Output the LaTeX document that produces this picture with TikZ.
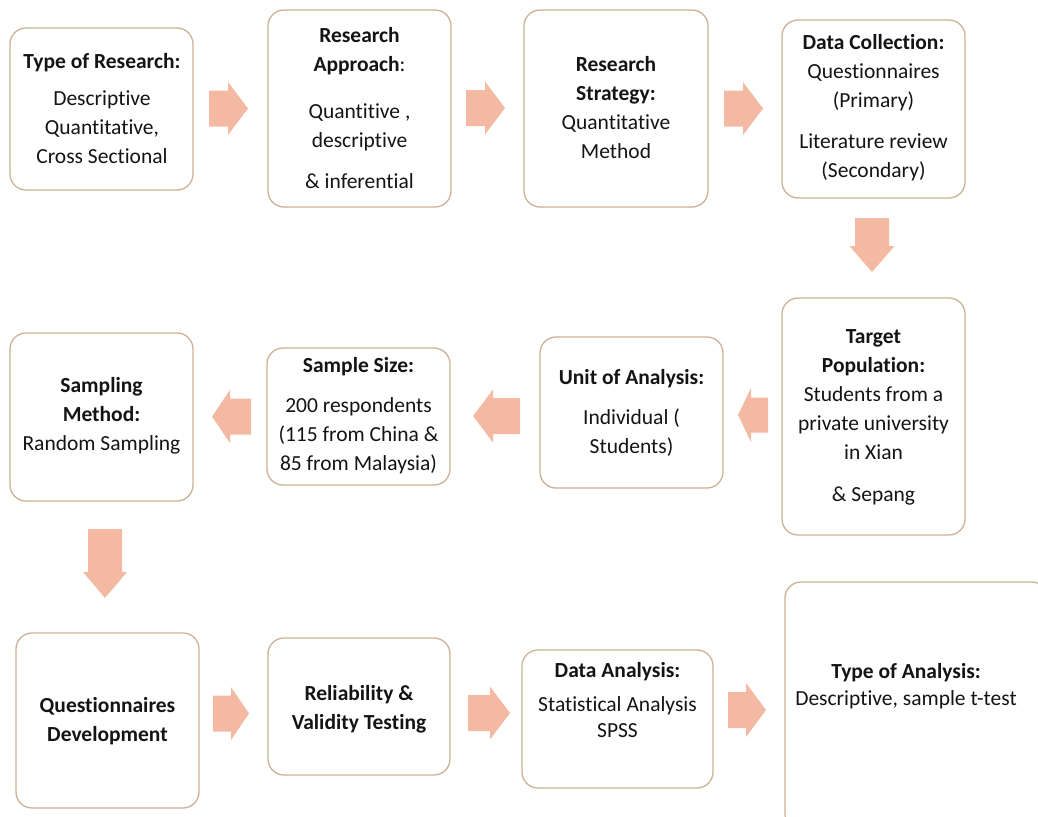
\documentclass[tikz,border=0pt]{standalone}
\usepackage{fontspec}
\setmainfont{Carlito}[Ligatures=NoCommon]
\usetikzlibrary{fit}
\definecolor{boxc}{RGB}{205,178,150}
\definecolor{arrowc}{RGB}{243,185,163}
\newcommand\blockarrow[7]{\begin{scope}[shift={(#1,#2)},rotate=#7]
\fill[arrowc] (0,-#4) -- ({#3-#6},-#4) -- ({#3-#6},-#5) -- (#3,0) -- ({#3-#6},#5) -- ({#3-#6},#4) -- (0,#4) -- cycle;
\end{scope}}
\begin{document}
\begin{tikzpicture}[x=1pt,y=-1pt,
  box/.style={draw=boxc, line width=1.3pt, rounded corners=16pt, fill=white, inner sep=0pt},
  txt/.style={align=center, font=\fontsize{21.5}{29}\selectfont, inner sep=0pt, text=black!92}]
\clip (0,0) rectangle (1038,816);
\fill[white] (0,0) rectangle (1038,816);
% boxes
\node[box, fit={(10,28) (193,190)}] (b1) {};
\node[box, fit={(268,10) (451,207)}] (b2) {};
\node[box, fit={(524,10) (708,207)}] (b3) {};
\node[box, fit={(782,20) (965,198)}] (b4) {};
\node[box, fit={(782,298) (965,535)}] (b5) {};
\node[box, fit={(540,337) (723,488)}] (b6) {};
\node[box, fit={(267,348) (450,485)}] (b7) {};
\node[box, fit={(10,333) (193,501)}] (b8) {};
\node[box, fit={(16,633) (199,808)}] (b9) {};
\node[box, fit={(268,638) (450,775)}] (b10) {};
\node[box, fit={(522,650) (713,788)}] (b11) {};
\node[box, fit={(785,582) (1048,830)}] (b12) {};
% texts
\node[txt] (t1) at (102,109) {\textbf{Type of Research:}\\[8pt]Descriptive\\Quantitative,\\Cross Sectional};
\node[txt] (t2) at (359.5,108) {\textbf{Research}\\\textbf{Approach}:\\[18pt]Quantitive ,\\descriptive\\[12pt]\& inferential};
\node[txt] (t3) at (616,108) {\textbf{Research}\\\textbf{Strategy:}\\Quantitative\\Method};
\node[txt] (t4) at (873.5,108) {\textbf{Data Collection:}\\Questionnaires\\(Primary)\\[12pt]Literature review\\(Secondary)};
\node[txt] (t5) at (873.5,417) {\textbf{Target}\\\textbf{Population:}\\Students from a\\private university\\in Xian\\[13pt]\& Sepang};
\node[txt] (t6) at (631.5,413) {\textbf{Unit of Analysis:}\\[11pt]Individual (\\Students)};
\node[txt] (t7) at (358.5,416) {\textbf{Sample Size:}\\[11pt]200 respondents\\(115 from China \&\\85 from Malaysia)};
\node[txt] (t8) at (101.5,416) {\textbf{Sampling}\\\textbf{Method:}\\Random Sampling};
\node[txt] (t9) at (107.5,721) {\textbf{Questionnaires}\\\textbf{Development}};
\node[txt] (t10) at (359,709) {\textbf{Reliability \&}\\\textbf{Validity Testing}};
\node[txt] (t11) at (617.5,700) {\textbf{Data Analysis:}\\[5pt]Statistical Analysis\\[-3pt]SPSS};
\node[txt] (t12) at (906,686) {\textbf{Type of Analysis:}\\[-2pt]Descriptive, sample t-test};
% block arrows
\blockarrow{209}{108.5}{39}{18}{26.5}{20}{0}
\blockarrow{466}{108}{39}{18}{26.5}{20}{0}
\blockarrow{724}{108.5}{39}{18}{26.5}{20}{0}
\blockarrow{872}{218}{54}{17}{22.5}{26}{-90}
\blockarrow{768}{415}{30}{17.5}{27}{13}{180}
\blockarrow{520}{416}{47}{18}{26.5}{20}{180}
\blockarrow{251}{416.5}{39}{18}{26.5}{18}{180}
\blockarrow{105}{529}{69}{17}{22}{26}{-90}
\blockarrow{213}{713.5}{36}{18}{26.5}{18}{0}
\blockarrow{468}{713}{42}{18}{26.5}{20}{0}
\blockarrow{728}{710}{38}{18}{27}{20}{0}
\end{tikzpicture}
\end{document}
